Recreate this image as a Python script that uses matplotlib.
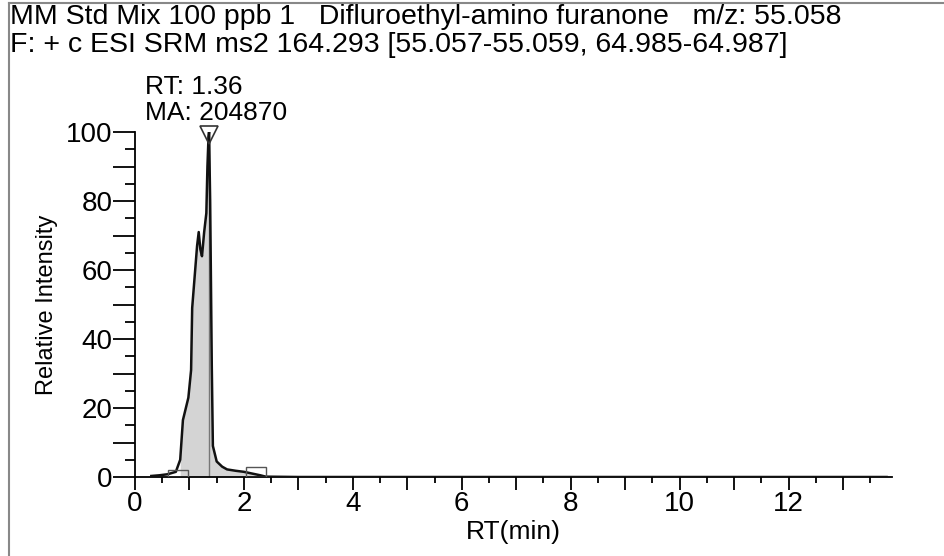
import matplotlib
matplotlib.use("Agg")
import matplotlib.pyplot as plt
from matplotlib.patches import Rectangle
from matplotlib.ticker import MultipleLocator, FuncFormatter
import numpy as np

# ---- data ----
rt = [0.30, 0.45, 0.60, 0.75, 0.83, 0.88, 0.98, 1.03, 1.05, 1.10, 1.14, 1.17, 1.20,
      1.23, 1.27, 1.31, 1.33, 1.35, 1.36, 1.38, 1.41, 1.43, 1.50, 1.60, 1.69, 1.85,
      2.00, 2.15, 2.30, 2.40, 3.0, 6.0, 10.0, 13.8]
intensity = [0.3, 0.5, 0.8, 1.5, 5, 16.5, 23, 31, 49, 59, 67, 71, 66,
             64, 71, 76.5, 90, 98.6, 100, 80, 32, 9, 4.5, 3.0, 2.2, 1.8,
             1.5, 1.0, 0.5, 0.1, 0.0, 0.0, 0.0, 0.0]
peak_rt = 1.36
peak_area = 204870
fill_range = (0.83, 2.30)
left_box = (0.60, 0.97, 2.0)
right_box = (2.03, 2.41, 3.0)

title1 = "MM Std Mix 100 ppb 1   Difluroethyl-amino furanone   m/z: 55.058"
title2 = "F: + c ESI SRM ms2 164.293 [55.057-55.059, 64.985-64.987]"

FONT = ["Liberation Sans", "DejaVu Sans"]
plt.rcParams["font.family"] = FONT

fig = plt.figure(figsize=(9.44, 5.56), dpi=100)
ax = fig.add_axes([135/944, 1-477/556, 757/944, 345/556])

x = np.array(rt)
y = np.array(intensity)
m = (x >= fill_range[0]) & (x <= fill_range[1])
ax.fill_between(x[m], 0, y[m], color="#d4d4d4", lw=0, zorder=1)
ax.plot(x, y, color="#111111", lw=1.8, zorder=3)
pi = rt.index(peak_rt)
ax.plot([peak_rt, peak_rt], [0, intensity[pi]], color="#777777", lw=1.0, zorder=2)
ax.plot([peak_rt], [intensity[pi] - 1.0], marker="v", ms=13, mfc="none", mec="#333333",
        mew=1.2, zorder=4, clip_on=False)

for (a, b, h) in (left_box, right_box):
    ax.add_patch(Rectangle((a, 0), b - a, h, fill=False, ec="#555555", lw=1.0, zorder=4))

ax.set_xlim(0, 13.9)
ax.set_ylim(0, 100)
for s in ("top", "right"):
    ax.spines[s].set_visible(False)
ax.spines["left"].set_linewidth(1.3)
ax.spines["bottom"].set_linewidth(1.3)

ax.xaxis.set_major_locator(MultipleLocator(1))
ax.xaxis.set_minor_locator(MultipleLocator(0.5))
ax.xaxis.set_major_formatter(FuncFormatter(lambda v, p: f"{int(round(v))}" if round(v) % 2 == 0 else ""))
ax.yaxis.set_major_locator(MultipleLocator(10))
ax.yaxis.set_minor_locator(MultipleLocator(5))
ax.yaxis.set_major_formatter(FuncFormatter(lambda v, p: f"{int(round(v))}" if round(v) % 20 == 0 else ""))
ax.tick_params(axis="x", which="major", length=9, width=1.3, labelsize=20, pad=1)
ax.tick_params(axis="x", which="minor", length=4, width=1.3)
ax.tick_params(axis="y", which="major", length=16, width=1.3, labelsize=20, pad=0)
ax.tick_params(axis="y", which="minor", length=7, width=1.3)

ax.set_xlabel("RT(min)", fontsize=19, labelpad=2)
ax.set_ylabel("Relative Intensity", fontsize=17, labelpad=6)

fig.text(10/944, 1-17/556, title1, fontsize=20.5, va="center", ha="left")
fig.text(10/944, 1-45/556, title2, fontsize=20.5, va="center", ha="left")
fig.text(145/944, 1-87/556, f"RT: {peak_rt:.2f}", fontsize=19, va="center", ha="left")
fig.text(145/944, 1-113/556, f"MA: {peak_area}", fontsize=19, va="center", ha="left")

# page frame lines
fig.add_artist(plt.Line2D([9/944, 9/944], [0, 1-3/556], color="#888888", lw=1.5))
fig.add_artist(plt.Line2D([9/944, 1], [1-3/556, 1-3/556], color="#888888", lw=1.5))

fig.savefig("out.png", dpi=100)
